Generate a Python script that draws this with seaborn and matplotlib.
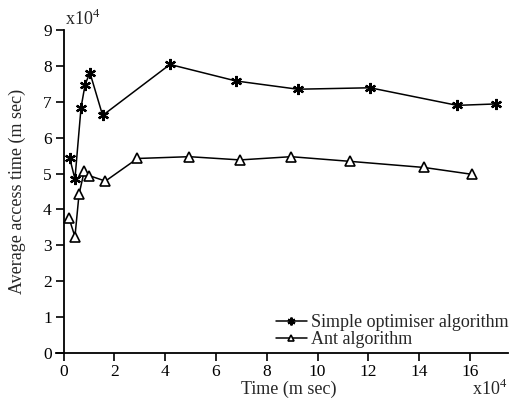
import matplotlib
matplotlib.use("Agg")
import matplotlib.pyplot as plt
import seaborn as sns
import pandas as pd

simple_x = [0.24, 0.45, 0.69, 0.85, 1.04, 1.54, 4.19, 6.79, 9.22, 12.07, 15.50, 17.03]
simple_y = [5.44, 4.85, 6.84, 7.48, 7.81, 6.62, 8.04, 7.58, 7.35, 7.39, 6.90, 6.94]
ant_x = [0.22, 0.45, 0.61, 0.82, 1.02, 1.65, 2.91, 4.95, 6.95, 8.96, 11.28, 14.19, 16.07]
ant_y = [3.75, 3.24, 4.42, 5.08, 4.94, 4.79, 5.42, 5.47, 5.38, 5.47, 5.34, 5.17, 4.98]
x_ticks = [0, 2, 4, 6, 8, 10, 12, 14, 16]
y_ticks = [0, 1, 2, 3, 4, 5, 6, 7, 8, 9]

sns.set_style("ticks")
plt.rcParams['font.family'] = ['Liberation Serif', 'DejaVu Serif']
plt.rcParams['mathtext.fontset'] = 'custom'
plt.rcParams['mathtext.rm'] = 'Liberation Serif'

FS = 13

fig = plt.figure(figsize=(5.09, 4.01), dpi=100)
ax = fig.add_axes([55.9 / 509, (401 - 353) / 401, (508 - 55.9) / 509, (353 - 30) / 401])

df_s = pd.DataFrame({"x": simple_x, "y": simple_y})
df_a = pd.DataFrame({"x": ant_x, "y": ant_y})

sns.lineplot(data=df_s, x="x", y="y", ax=ax, color="black", lw=1.1,
             marker=(6, 2, 0), markersize=8, markeredgewidth=1.6, markeredgecolor="black",
             label="Simple optimiser algorithm", sort=False)
sns.lineplot(data=df_a, x="x", y="y", ax=ax, color="black", lw=1.1,
             marker="^", markersize=7, markerfacecolor="white", markeredgecolor="black",
             markeredgewidth=1.2, label="Ant algorithm", sort=False)

ax.set_xlim(-0.3, 17.5)
ax.set_ylim(0, 9)
ax.set_xticks(x_ticks)
ax.set_yticks(y_ticks)
ax.spines['left'].set_position(('data', 0))
ax.spines['top'].set_visible(False)
ax.spines['right'].set_visible(False)
for s in ['left', 'bottom']:
    ax.spines[s].set_linewidth(1.3)
    ax.spines[s].set_color("black")
ax.tick_params(direction='out', length=5.5, width=1.2, labelsize=12.5, colors="black", pad=3)
ax.tick_params(axis='x', pad=2.5)
ax.set_xlabel("Time (m sec)", fontsize=FS)
ax.set_ylabel("Average access time (m sec)", fontsize=FS)
ax.xaxis.set_label_coords((289 - 55.9) / 452, (353 - 389) / 323)
ax.xaxis.label.set_va("center")
ax.yaxis.set_label_coords((17 - 55.9) / 452, 0.5)
ax.yaxis.label.set_va("center")

fig.text(65 / 509, 1 - 19 / 401, r"x10$^{4}$", fontsize=FS, va="center", ha="left")
fig.text(507 / 509, 1 - 389 / 401, r"x10$^{4}$", fontsize=FS, va="center", ha="right")

leg = ax.legend(loc="lower right", bbox_to_anchor=(1.03, -0.025), frameon=False, fontsize=FS,
                handlelength=1.7, handletextpad=0.25, labelspacing=0.0, borderaxespad=0.3,
                markerscale=0.7)

fig.savefig("out.png", dpi=100)
